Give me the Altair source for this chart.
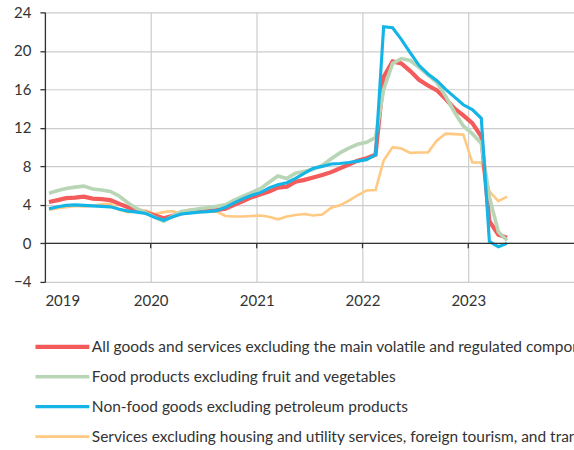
import altair as alt
import pandas as pd

# Monthly year-on-year changes (%), Jan 2019 – May 2023, plotted mid-month
months = pd.date_range("2019-01-01", periods=53, freq="MS") + pd.Timedelta(days=14)
month_labels = [d.strftime("%Y-%m-%d") for d in months]

core = [4.3, 4.5, 4.7, 4.75, 4.85, 4.65, 4.6, 4.5, 4.1, 3.75, 3.45, 3.2,
        2.9, 2.6, 2.85, 3.1, 3.3, 3.35, 3.4, 3.45, 3.6, 4.0, 4.4, 4.8,
        5.1, 5.4, 5.8, 5.9, 6.4, 6.6, 6.85, 7.1, 7.4, 7.8, 8.2, 8.6,
        8.85, 9.2, 17.3, 18.9, 18.7, 17.9, 17.0, 16.4, 15.9, 15.0, 14.0, 13.3,
        12.5, 11.1, 2.3, 0.9, 0.6]

food = [5.2, 5.5, 5.7, 5.85, 5.95, 5.65, 5.55, 5.4, 4.9, 4.2, 3.6, 3.2,
        2.7, 2.3, 2.8, 3.3, 3.45, 3.6, 3.7, 3.85, 4.0, 4.5, 4.9, 5.3,
        5.7, 6.4, 7.0, 6.75, 7.3, 7.5, 7.7, 8.1, 8.8, 9.4, 9.9, 10.3,
        10.5, 11.0, 16.0, 18.7, 19.2, 19.0, 18.3, 17.5, 16.7, 15.3, 13.6, 12.2,
        11.4, 10.4, 4.8, 1.2, 0.3]

nonfood = [3.6, 3.8, 3.95, 4.0, 3.95, 3.9, 3.85, 3.8, 3.55, 3.35, 3.25, 3.1,
           2.7, 2.4, 2.75, 3.05, 3.15, 3.25, 3.3, 3.4, 3.75, 4.2, 4.65, 5.0,
           5.3, 5.8, 6.1, 6.3, 6.75, 7.3, 7.8, 8.0, 8.25, 8.3, 8.4, 8.55,
           8.7, 9.2, 22.5, 22.4, 21.2, 19.8, 18.5, 17.6, 16.9, 16.0, 15.2, 14.4,
           13.9, 13.0, 0.2, -0.35, 0.0]

services = [3.5, 3.65, 3.75, 3.9, 3.85, 3.9, 4.05, 4.1, 3.5, 3.25, 3.35, 3.4,
            3.05, 3.25, 3.35, 3.1, 3.55, 3.4, 3.3, 3.3, 2.85, 2.8, 2.8, 2.85,
            2.9, 2.75, 2.5, 2.8, 2.95, 3.05, 2.9, 3.0, 3.7, 3.95, 4.45, 5.0,
            5.5, 5.55, 8.6, 10.0, 9.85, 9.4, 9.45, 9.45, 10.7, 11.4, 11.35, 11.3,
            8.4, 8.4, 5.4, 4.4, 4.85]

series_names = [
    "All goods and services excluding the main volatile and regulated components",
    "Food products excluding fruit and vegetables",
    "Non-food goods excluding petroleum products",
    "Services excluding housing and utility services, foreign tourism, and transport",
]
series_colors = ["#F45B5B", "#B8D5B6", "#14B5E6", "#FFC982"]
series_widths = [4.2, 2.6, 2.6, 2.3]

y_ticks = [-4, 0, 4, 8, 12, 16, 20, 24]
year_ticks = [2019, 2020, 2021, 2022, 2023]

# drawing order: services at the back, non-food goods on top
draw_order = [(series_names[3], services), (series_names[0], core),
              (series_names[1], food), (series_names[2], nonfood)]

rows = []
for name, values in draw_order:
    for m, v in zip(month_labels, values):
        rows.append({"month": m, "series": name, "value": v})
df = pd.DataFrame(rows)

tick_df = pd.DataFrame({"year": [f"{y}-01-01" for y in year_ticks[1:]],
                        "top": 0.0, "bottom": -0.5})

font = "Lato"
x_scale = alt.Scale(type="utc",
                    domain=[alt.DateTime(year=2019, month=1, date=1, utc=True),
                            alt.DateTime(year=2024, month=1, date=1, utc=True)])
y_scale = alt.Scale(domain=[-4, 24], nice=False, zero=False)

x_axis = alt.Axis(values=[alt.DateTime(year=y, month=1, date=1, utc=True) for y in year_ticks],
                  format="%Y", title=None, domain=False, ticks=False,
                  labelPadding=12, labelOverlap=False,
                  gridColor="#CCCCCC", gridWidth=1.2)
y_axis = alt.Axis(values=y_ticks, title=None, tickCount=8,
                  domain=True, domainColor="#333333", domainWidth=1.3,
                  ticks=True, tickColor="#333333", tickSize=5, tickWidth=1.3,
                  labelPadding=9, labelOverlap=False,
                  gridColor="#CCCCCC", gridWidth=1.2)

legend_def = alt.Legend(title=None, orient="none", legendX=-12, legendY=325,
                        direction="vertical")

lines = alt.Chart(df).mark_line(clip=True).encode(
    x=alt.X("month:T", scale=x_scale, axis=x_axis),
    y=alt.Y("value:Q", scale=y_scale, axis=y_axis),
    color=alt.Color("series:N", sort=series_names,
                    scale=alt.Scale(domain=series_names, range=series_colors),
                    legend=legend_def),
    strokeWidth=alt.StrokeWidth("series:N", sort=series_names,
                                scale=alt.Scale(domain=series_names, range=series_widths),
                                legend=legend_def),
    detail="series:N",
)

zero_line = alt.Chart(pd.DataFrame({"v": [0.0]})).mark_rule(
    color="#333333", strokeWidth=1.4).encode(
    y=alt.Y("v:Q", scale=y_scale, axis=y_axis))

zero_ticks = alt.Chart(tick_df).mark_rule(color="#333333", strokeWidth=1.3).encode(
    x=alt.X("year:T", scale=x_scale, axis=x_axis),
    y=alt.Y("top:Q", scale=y_scale, axis=y_axis),
    y2="bottom:Q",
)

chart = alt.layer(lines, zero_line, zero_ticks).properties(
    width=530, height=270,
    padding={"left": 45, "top": 12, "right": 0, "bottom": 168},
    autosize=alt.AutoSizeParams(type="none"),
).configure_view(stroke=None).configure_axis(
    labelFont=font, labelFontSize=15, labelColor="#333333",
).configure_legend(
    labelFont=font, labelFontSize=15.5, labelColor="#333333", labelLimit=2000,
    symbolType="stroke", symbolSize=2916, clipHeight=20, rowPadding=10,
    labelOffset=0, symbolStrokeWidth=2.6, padding=0,
)

chart.save("out.html", embed_options={"renderer": "svg", "actions": False})
